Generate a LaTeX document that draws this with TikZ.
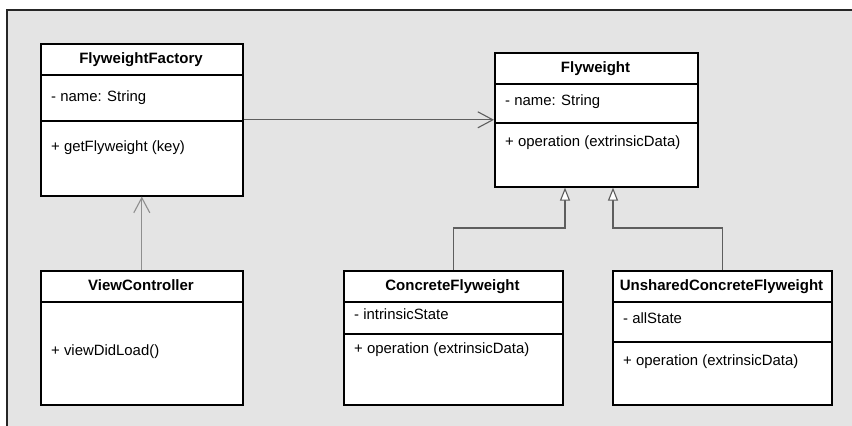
\documentclass[tikz,border=0pt]{standalone}
\usepackage{fontspec}
\setmainfont{Liberation Sans}
\usetikzlibrary{arrows.meta}
\definecolor{canvas}{HTML}{E4E4E4}
\definecolor{wire}{HTML}{5E5E5E}
\begin{document}
\begin{tikzpicture}[x=1pt,y=-1pt,
  classbox/.style={draw=black, line width=1.6pt, fill=white, rectangle,
    inner sep=0pt, anchor=north west},
  sepline/.style={draw=black, line width=1.6pt},
  classname/.style={font=\fontsize{15}{18}\selectfont\bfseries, inner sep=0pt,
    text height=11pt, text depth=3pt},
  member/.style={font=\fontsize{14.9}{17}\selectfont, inner sep=0pt, anchor=west,
    text height=10.5pt, text depth=3pt},
  assoc/.style={draw=wire, line width=1.1pt,
    -{Straight Barb[length=15pt,width=16pt,line width=1.1pt]}},
  generalize/.style={draw=wire, line width=1.1pt,
    -{Triangle[length=13pt,width=10pt,fill=white,line width=1.1pt]}}]

% page and diagram canvas
\fill[white] (0,0) rectangle (852,426);
\useasboundingbox (0,0) rectangle (852,426);
\fill[canvas] (6,9) rectangle (852,426);
\draw[black!85, line width=1.8pt] (852,9.8) -- (6.8,9.8) -- (6.8,426);

% FlyweightFactory
\node[classbox, minimum width=202pt, minimum height=152pt] (ff) at (40,43) {};
\draw[sepline] ([yshift=-32pt]ff.north west) -- ([yshift=-32pt]ff.north east);
\draw[sepline] ([yshift=-78pt]ff.north west) -- ([yshift=-78pt]ff.north east);
\node[classname] (ffT) at (141,59) {FlyweightFactory};
\node[member] (ffA) at (51,98) {- name: String};
\node[member] (ffM) at (51,148) {+ getFlyweight (key)};

% Flyweight
\node[classbox, minimum width=203pt, minimum height=134pt] (fw) at (494,52) {};
\draw[sepline] ([yshift=-32pt]fw.north west) -- ([yshift=-32pt]fw.north east);
\draw[sepline] ([yshift=-71pt]fw.north west) -- ([yshift=-71pt]fw.north east);
\node[classname] (fwT) at (595.5,68) {Flyweight};
\node[member] (fwA) at (505,102) {- name: String};
\node[member] (fwM) at (505,143) {+ operation (extrinsicData)};

% ViewController
\node[classbox, minimum width=202pt, minimum height=134pt] (vc) at (40,270) {};
\draw[sepline] ([yshift=-32pt]vc.north west) -- ([yshift=-32pt]vc.north east);
\node[classname] (vcT) at (141,286) {ViewController};
\node[member] (vcM) at (51,352) {+ viewDidLoad()};

% ConcreteFlyweight
\node[classbox, minimum width=219pt, minimum height=134pt] (cf) at (343,270) {};
\draw[sepline] ([yshift=-32pt]cf.north west) -- ([yshift=-32pt]cf.north east);
\draw[sepline] ([yshift=-64pt]cf.north west) -- ([yshift=-64pt]cf.north east);
\node[classname] (cfT) at (452.5,286) {ConcreteFlyweight};
\node[member] (cfA) at (354,316) {- intrinsicState};
\node[member] (cfM) at (354,350) {+ operation (extrinsicData)};

% UnsharedConcreteFlyweight
\node[classbox, minimum width=219pt, minimum height=134pt] (uf) at (612,270) {};
\draw[sepline] ([yshift=-32pt]uf.north west) -- ([yshift=-32pt]uf.north east);
\draw[sepline] ([yshift=-72pt]uf.north west) -- ([yshift=-72pt]uf.north east);
\node[classname] (ufT) at (721.5,286) {UnsharedConcreteFlyweight};
\node[member] (ufA) at (623,320) {- allState};
\node[member] (ufM) at (623,362) {+ operation (extrinsicData)};

% relations
\draw[assoc] (ff) -- (fw);
\draw[assoc, draw=wire!70] (vc.north) -- (ff.south);
\coordinate (bendL) at (565,228);
\coordinate (bendR) at (613,228);
\draw[generalize] (cf.north) |- (bendL) -- (bendL |- fw.south);
\draw[generalize] (uf.north) |- (bendR) -- (bendR |- fw.south);
\end{tikzpicture}
\end{document}
